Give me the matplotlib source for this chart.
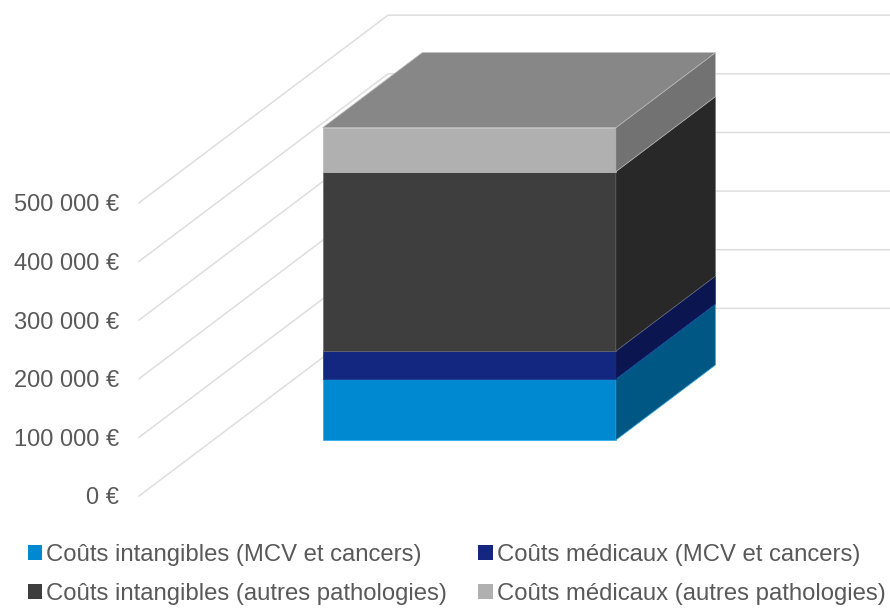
import matplotlib
matplotlib.use('Agg')
import matplotlib.pyplot as plt
from matplotlib.patches import Patch

plt.rcParams['font.family'] = ['Liberation Sans', 'DejaVu Sans']

# Values (euros), bottom to top of the stack
series_names = ['Coûts intangibles (MCV et cancers)', 'Coûts médicaux (MCV et cancers)',
                'Coûts intangibles (autres pathologies)', 'Coûts médicaux (autres pathologies)']
series_values = [104000, 47700, 306000, 75000]
axis_ticks = [0, 100000, 200000, 300000, 400000, 500000]
axis_labels = ['0 €', '100 000 €', '200 000 €', '300 000 €', '400 000 €', '500 000 €']

front_colors = ['#0088D1', '#132780', '#3E3E3E', '#B0B0B0']
side_colors = ['#005784', '#0B1650', '#282828', '#727272']
edge_colors = ['#2BA6E8', '#1A2D8C', '#6E6E6E', '#B8B8B8']
top_color = '#878787'
text_color = '#595959'
grid_color = '#DEDEDE'

W, H = 890, 608
fig = plt.figure(figsize=(W / 100, H / 100), dpi=100)
ax = fig.add_axes([139 / W, (H - 496) / H, 502 / W, 293.2 / H])
ax.set_xlim(0, 1)
ax.set_ylim(0, 500000)

# oblique 3D look: depth 0..1 shears x and y in data units
depth_x = 249 / 502
depth_y = 320000


def project(x, d, v):
    return x + depth_x * d, v + depth_y * d


# gridlines: side wall then back wall
for v in axis_ticks:
    p = [project(0, 0, v), project(0, 1, v), project(1, 1, v)]
    ax.plot([q[0] for q in p], [q[1] for q in p], color=grid_color, lw=1.1,
            clip_on=False, solid_joinstyle='miter', zorder=1)


def face(corners, color, edge):
    xs = [c[0] for c in corners]
    ys = [c[1] for c in corners]
    ax.fill(xs, ys, facecolor=color, edgecolor=edge, lw=0.5, clip_on=False, zorder=2)


x0, x1 = 0.218, 0.802
d0, d1 = 0.298, 0.698
bottom = 0
for val, fc, sc, ec in zip(series_values, front_colors, side_colors, edge_colors):
    top = bottom + val
    face([project(x0, d0, bottom), project(x1, d0, bottom), project(x1, d0, top), project(x0, d0, top)], fc, ec)
    face([project(x1, d0, bottom), project(x1, d1, bottom), project(x1, d1, top), project(x1, d0, top)], sc, ec)
    bottom = top
face([project(x0, d0, bottom), project(x1, d0, bottom), project(x1, d1, bottom), project(x0, d1, bottom)],
     top_color, edge_colors[-1])

ax.set_xticks([])
ax.set_yticks(axis_ticks)
ax.set_yticklabels(axis_labels, color=text_color, fontsize=17)
ax.tick_params(axis='y', length=0, pad=14.4)
for s in ax.spines.values():
    s.set_visible(False)
ax.patch.set_visible(False)

# legend fills by column, so reorder to read across the rows
order = [0, 2, 1, 3]
handles = [Patch(facecolor=front_colors[i], label=series_names[i]) for i in order]
leg = fig.legend(handles=handles, ncols=2, loc='upper left', bbox_to_anchor=(28 / W, 1 - 544 / H),
                 bbox_transform=fig.transFigure, frameon=False, fontsize=17.2, borderpad=0, borderaxespad=0,
                 handlelength=0.6, handleheight=0.6, handletextpad=0.17, columnspacing=1.3, labelspacing=0.72,
                 labelcolor=text_color)

fig.savefig('out.png', dpi=100)
